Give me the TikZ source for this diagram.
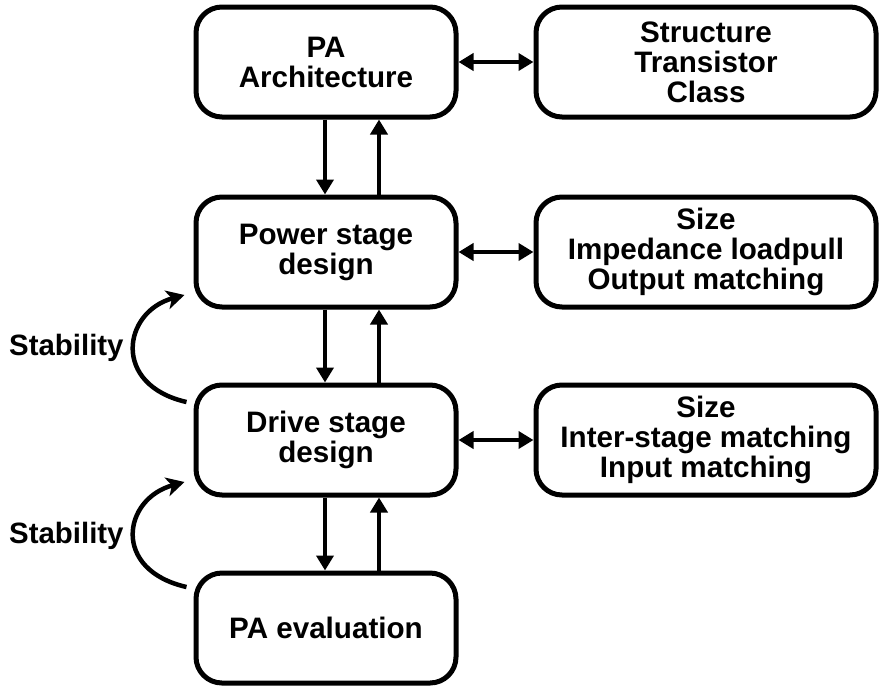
\documentclass[tikz,border=0pt]{standalone}
\usepackage{fontspec}
\setmainfont{Liberation Sans}
\usetikzlibrary{arrows.meta,calc}

\tikzset{
  stagebox/.style={draw, line width=5pt, rounded corners=26pt,
    minimum width=260pt, minimum height=110pt, align=center,
    inner sep=0pt, font=\bfseries\fontsize{29.6}{30}\selectfont},
  infobox/.style={stagebox, minimum width=340pt},
  flow/.style={line width=4.5pt, -{Triangle[length=15pt,width=17pt]}},
  link/.style={line width=4.5pt, {Triangle[length=15pt,width=17pt]}-{Triangle[length=15pt,width=17pt]}},
  loopback/.style={line width=4.5pt, -{Stealth[length=18pt,width=19pt,inset=5pt]}},
  sidelabel/.style={anchor=west, inner sep=0pt, font=\bfseries\fontsize{29.4}{30}\selectfont}
}

\begin{document}
\begin{tikzpicture}[x=1pt, y=-1pt]
  \useasboundingbox (0,0) rectangle (880,686);

  % left column: design stages
  \node[stagebox] (arch)  at (326,62)  {PA\\Architecture};
  \node[stagebox] (power) at (326,252) {Power stage\\design};
  \node[stagebox] (drive) at (326,440) {Drive stage\\design};
  \node[stagebox] (eval)  at (326,628) {PA evaluation};

  % right column: what each stage decides
  \node[infobox] (struct) at (706,62)  {Structure\\Transistor\\Class};
  \node[infobox] (size1)  at (706,252) {Size\\Impedance loadpull\\Output matching};
  \node[infobox] (size2)  at (706,440) {Size\\Inter-stage matching\\Input matching};

  % forward and backward flow between stages
  \foreach \a/\b in {arch/power, power/drive, drive/eval} {
    \draw[flow] ([xshift=-1pt]\a.south) -- ([xshift=-1pt]\b.north);
    \draw[flow] ([xshift=53pt]\b.north) -- ([xshift=53pt]\a.south);
  }

  % stage <-> parameters
  \draw[link] (arch.east)  -- (struct.west);
  \draw[link] (power.east) -- (size1.west);
  \draw[link] (drive.east) -- (size2.west);

  % stability feedback loops (yshift is in canvas units: positive = up)
  \coordinate (t1) at ([xshift=-7pt,yshift=38pt]drive.west);
  \coordinate (h1) at ([xshift=-9pt,yshift=-43pt]power.west);
  \draw[loopback] (t1) .. controls ($(t1)+(-75,-17)$) and ($(h1)+(-62,17)$) .. (h1);
  \node[sidelabel] (stab1) at (9,348) {Stability};

  \coordinate (t2) at ([xshift=-7pt,yshift=41pt]eval.west);
  \coordinate (h2) at ([xshift=-9pt,yshift=-42pt]drive.west);
  \draw[loopback] (t2) .. controls ($(t2)+(-75,-17)$) and ($(h2)+(-62,17)$) .. (h2);
  \node[sidelabel] (stab2) at (9,536) {Stability};
\end{tikzpicture}
\end{document}
